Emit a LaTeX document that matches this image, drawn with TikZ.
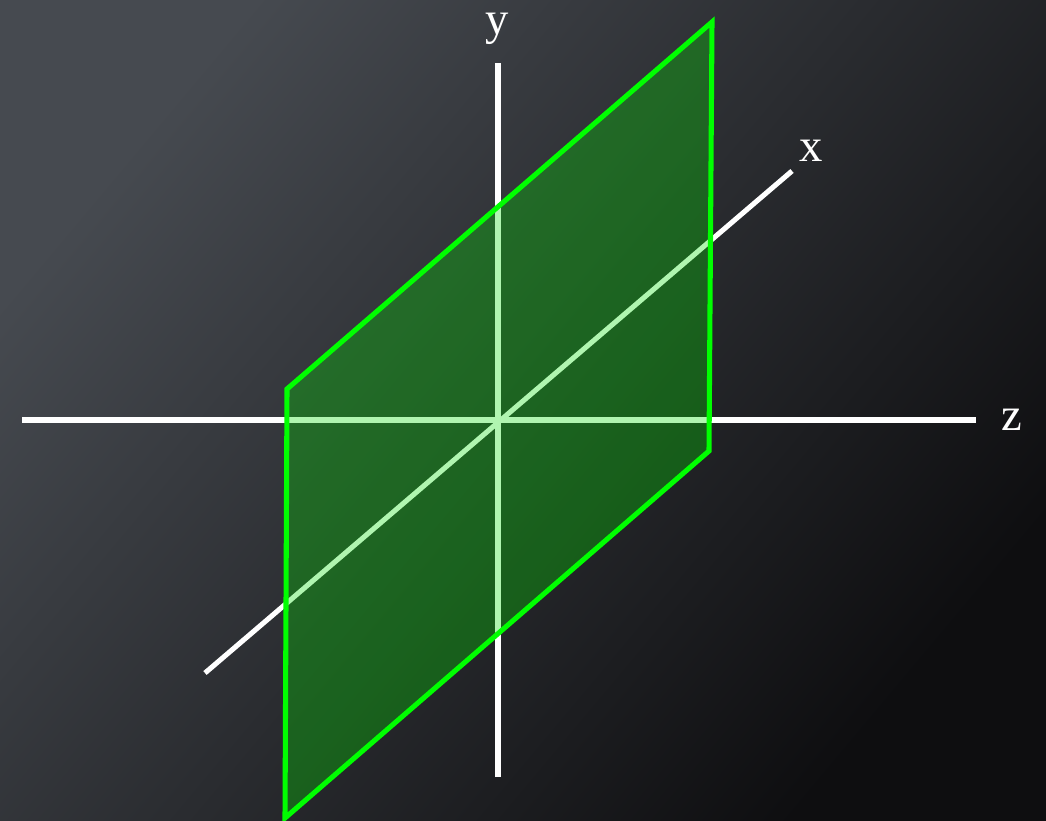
\documentclass[tikz,border=0pt]{standalone}
\usepackage{fontspec}
\setmainfont{Liberation Serif}
\begin{document}
\begin{tikzpicture}[x=0.75pt,y=-0.75pt,
  axis/.style={draw=white,line width=3.8pt},
  plane/.style={fill={rgb,255:red,0;green,225;blue,0},fill opacity=0.31},
  planeedge/.style={draw={rgb,255:red,0;green,255;blue,0},line width=3.8pt,line join=miter},
  lbl/.style={text=white,font=\fontsize{35}{40}\selectfont,inner sep=0pt}]
\definecolor{bgA}{RGB}{70,74,80}
\definecolor{bgB}{RGB}{14,14,16}
\shade[top color=bgA,bottom color=bgB,shading angle=50] (0,0) rectangle (1046,821);
\useasboundingbox (0,0) rectangle (1046,821);
% axes
\coordinate (ytop) at (498,63);
\coordinate (ybot) at (498,777);
\coordinate (zl) at (22,420);
\coordinate (zr) at (976,420);
\coordinate (xl) at (205,673);
\coordinate (xr) at (792,171);
\draw[axis] (ybot) -- (ytop);
\draw[axis] (zl) -- (zr);
\draw[axis] (xl) -- (xr);
% plane
\coordinate (p1) at (287,389);
\coordinate (p2) at (712,22);
\coordinate (p3) at (709,451);
\coordinate (p4) at (285,818);
\path[plane] (p1) -- (p2) -- (p3) -- (p4) -- cycle;
\draw[planeedge] (p1) -- (p2) -- (p3) -- (p4) -- cycle;
% labels
\node[lbl] (ly) at (497,29) {y};
\node[lbl] (lx) at (811,151) {x};
\node[lbl] (lz) at (1012,420) {z};
\end{tikzpicture}
\end{document}
